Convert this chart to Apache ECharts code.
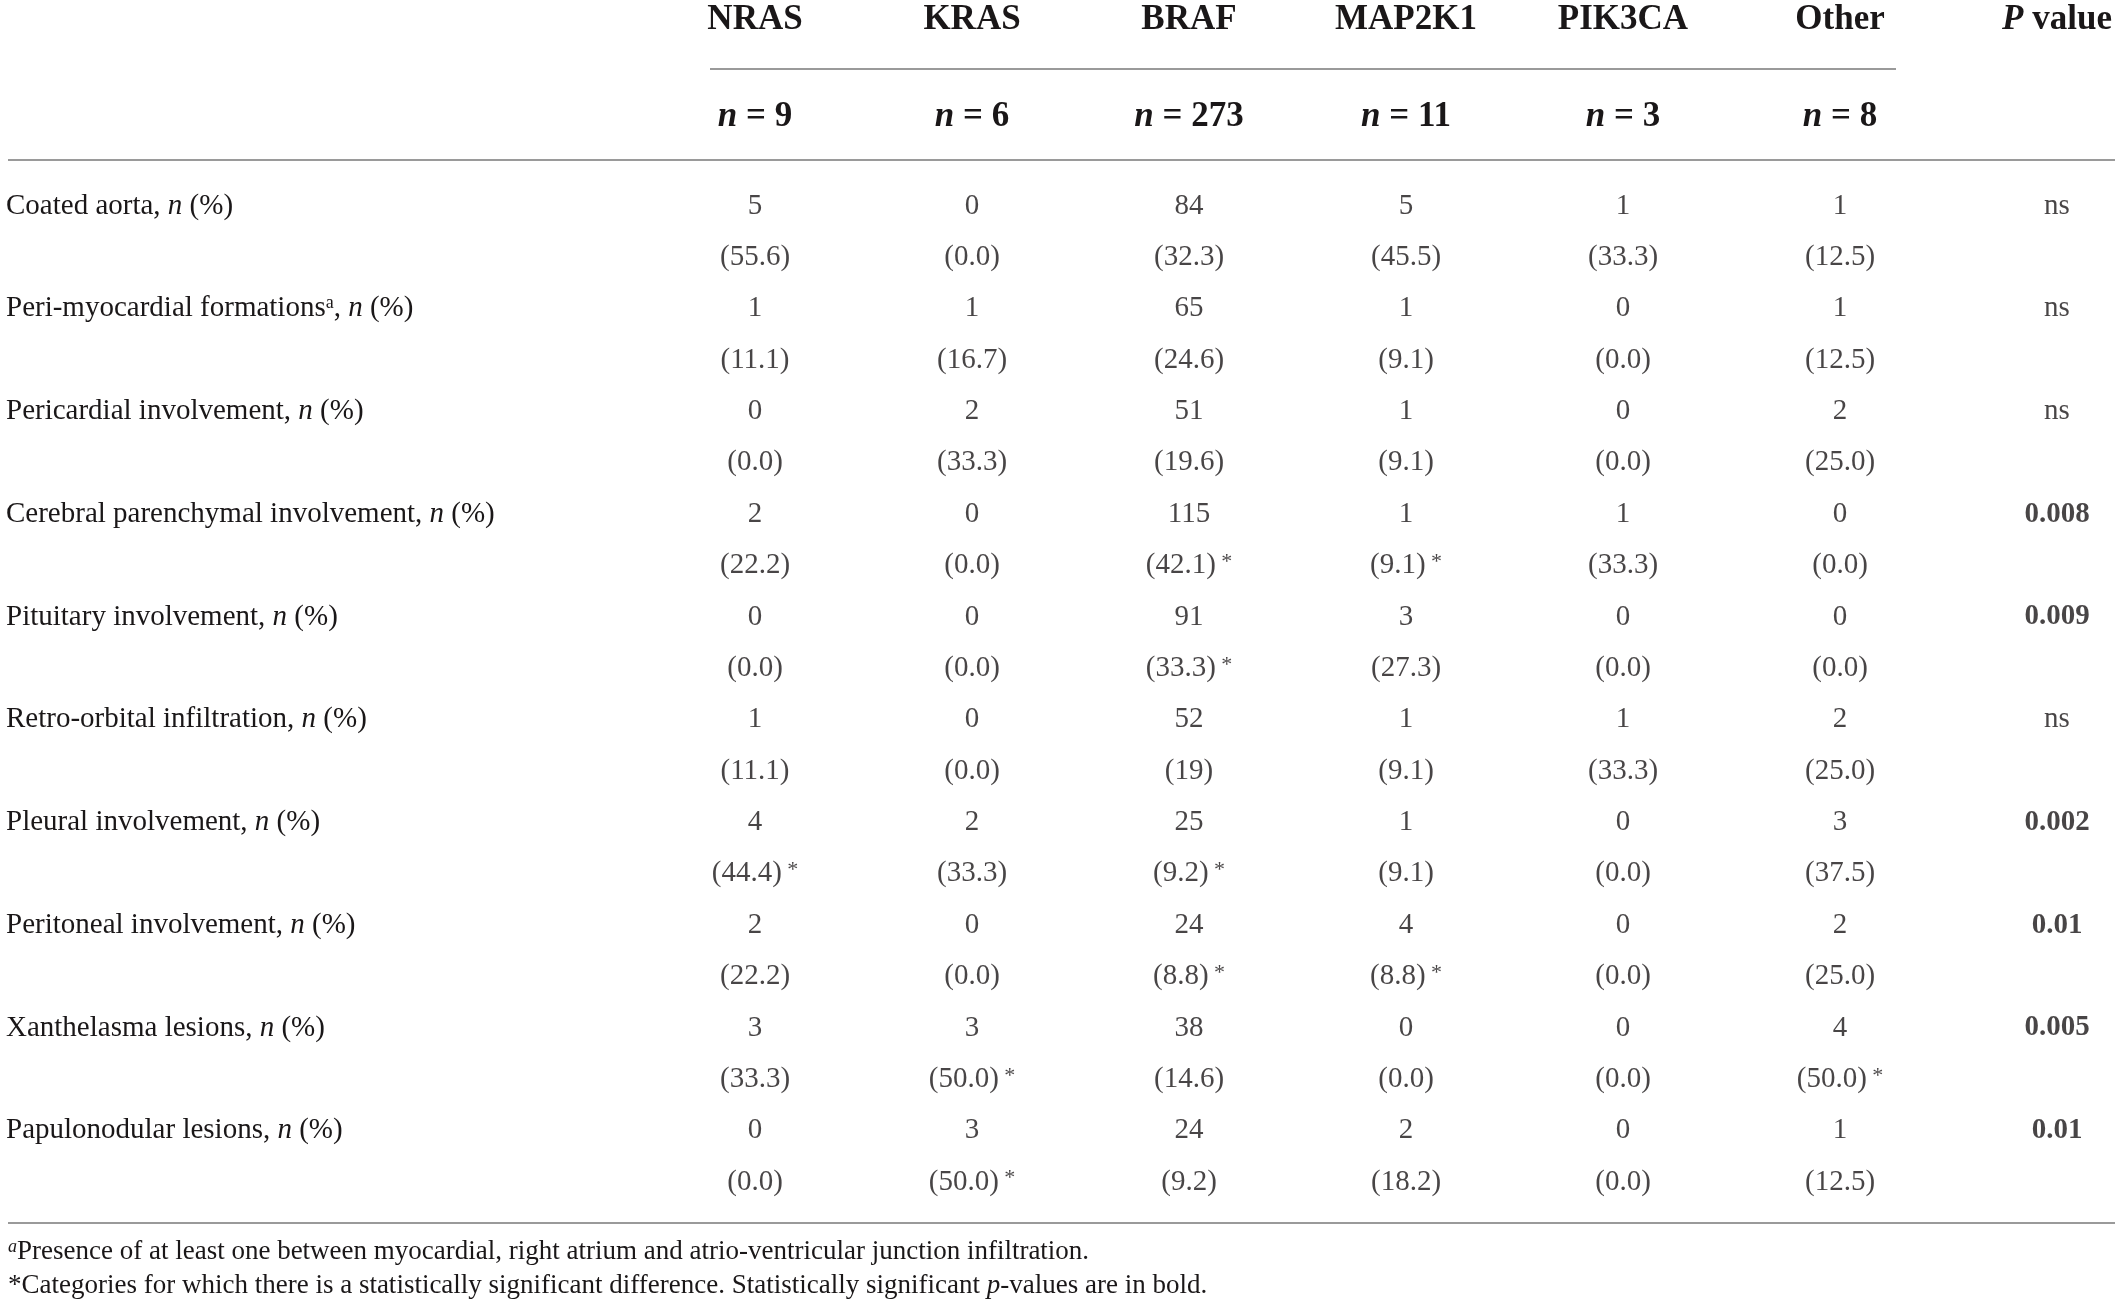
<!DOCTYPE html>
<html>
<head>
<meta charset="utf-8">
<script src="https://cdn.jsdelivr.net/npm/echarts@6/dist/echarts.min.js"></script>
<style>
  html, body { margin: 0; padding: 0; background: #fff; }
  #chart { width: 2121px; height: 1314px; }
</style>
</head>
<body>
<div id="chart"></div>
<script>
// table content
const genes = ['NRAS', 'KRAS', 'BRAF', 'MAP2K1', 'PIK3CA', 'Other', 'P value'];
const groupSizes = ['9', '6', '273', '11', '3', '8', ''];
const features = [
  'Coated aorta',
  'Peri-myocardial formations',
  'Pericardial involvement',
  'Cerebral parenchymal involvement',
  'Pituitary involvement',
  'Retro-orbital infiltration',
  'Pleural involvement',
  'Peritoneal involvement',
  'Xanthelasma lesions',
  'Papulonodular lesions'
];
const counts = [
  [5, 0, 84, 5, 1, 1],
  [1, 1, 65, 1, 0, 1],
  [0, 2, 51, 1, 0, 2],
  [2, 0, 115, 1, 1, 0],
  [0, 0, 91, 3, 0, 0],
  [1, 0, 52, 1, 1, 2],
  [4, 2, 25, 1, 0, 3],
  [2, 0, 24, 4, 0, 2],
  [3, 3, 38, 0, 0, 4],
  [0, 3, 24, 2, 0, 1]
];
const percents = [
  ['55.6', '0.0', '32.3', '45.5', '33.3', '12.5'],
  ['11.1', '16.7', '24.6', '9.1', '0.0', '12.5'],
  ['0.0', '33.3', '19.6', '9.1', '0.0', '25.0'],
  ['22.2', '0.0', '42.1', '9.1', '33.3', '0.0'],
  ['0.0', '0.0', '33.3', '27.3', '0.0', '0.0'],
  ['11.1', '0.0', '19', '9.1', '33.3', '25.0'],
  ['44.4', '33.3', '9.2', '9.1', '0.0', '37.5'],
  ['22.2', '0.0', '8.8', '8.8', '0.0', '25.0'],
  ['33.3', '50.0', '14.6', '0.0', '0.0', '50.0'],
  ['0.0', '50.0', '9.2', '18.2', '0.0', '12.5']
];
// 1 = marked with * (significant difference)
const stars = [
  [0, 0, 0, 0, 0, 0],
  [0, 0, 0, 0, 0, 0],
  [0, 0, 0, 0, 0, 0],
  [0, 0, 1, 1, 0, 0],
  [0, 0, 1, 0, 0, 0],
  [0, 0, 0, 0, 0, 0],
  [1, 0, 1, 0, 0, 0],
  [0, 0, 1, 1, 0, 0],
  [0, 1, 0, 0, 0, 1],
  [0, 1, 0, 0, 0, 0]
];
const pValues = ['ns', 'ns', 'ns', '0.008', '0.009', 'ns', '0.002', '0.01', '0.005', '0.01'];
const footnotes = [
  'Presence of at least one between myocardial, right atrium and atrio-ventricular junction infiltration.',
  'Categories for which there is a statistically significant difference. Statistically significant '
];

const FONT = '"Liberation Serif", "DejaVu Serif", serif';
const INK = '#1a1718';
const RULE = '#9a9a9a';

// two table lines per feature: count, then (percent)
const rowSlots = [];
features.forEach(f => {
  rowSlots.push(f);
  rowSlots.push('');
});

const cells = [];
counts.forEach((row, i) => {
  row.forEach((v, j) => {
    cells.push({ value: [j, 2 * i], text: '{n|' + v + '}' });
    cells.push({ value: [j, 2 * i + 1], text: '{n|(' + percents[i][j] + ')}' + (stars[i][j] ? '{st| *}' : '') });
  });
  cells.push({ value: [6, 2 * i], text: pValues[i] === 'ns' ? '{n|ns}' : '{b|' + pValues[i] + '}' });
});

const chart = echarts.init(document.getElementById('chart'));

const headerRich = {
  h: { fontFamily: FONT, fontSize: 35, fontWeight: 'bold', color: INK },
  hi: { fontFamily: FONT, fontSize: 35, fontWeight: 'bold', fontStyle: 'italic', color: INK }
};

chart.setOption({
  backgroundColor: '#fff',
  animation: false,
  grid: { left: 755, right: 64, top: 206, bottom: 132 },
  xAxis: [
    {
      type: 'category',
      position: 'top',
      data: genes,
      boundaryGap: false,
      axisLine: { show: false },
      axisTick: { show: false },
      splitLine: { show: false },
      axisLabel: {
        interval: 0,
        margin: 186,
        verticalAlign: 'middle',
        formatter: v => v === 'P value' ? '{hi|P}{h| value}' : '{h|' + v + '}',
        rich: headerRich
      }
    },
    {
      type: 'category',
      position: 'top',
      data: groupSizes,
      boundaryGap: false,
      axisLine: { show: false },
      axisTick: { show: false },
      splitLine: { show: false },
      axisLabel: {
        interval: 0,
        margin: 89,
        verticalAlign: 'middle',
        formatter: v => v === '' ? '' : '{hi|n}{h| = ' + v + '}',
        rich: headerRich
      }
    }
  ],
  yAxis: {
    type: 'category',
    inverse: true,
    data: rowSlots,
    boundaryGap: false,
    axisLine: { show: false },
    axisTick: { show: false },
    splitLine: { show: false },
    axisLabel: {
      interval: 0,
      align: 'left',
      margin: 749,
      verticalAlign: 'middle',
      formatter: v => {
        if (!v) return '';
        if (v === 'Peri-myocardial formations') return '{t|' + v + '}{s|a}{t|, }{i|n}{t| (%)}';
        return '{t|' + v + ', }{i|n}{t| (%)}';
      },
      rich: {
        t: { fontFamily: FONT, fontSize: 29, color: INK },
        i: { fontFamily: FONT, fontSize: 29, fontStyle: 'italic', color: INK },
        s: { fontFamily: FONT, fontSize: 18, color: INK, verticalAlign: 'top' }
      }
    }
  },
  series: [{
    type: 'scatter',
    xAxisIndex: 0,
    symbolSize: 0,
    itemStyle: { color: INK },
    data: cells.map(c => c.value),
    label: {
      show: true,
      position: [0, 0],
      align: 'center',
      verticalAlign: 'middle',
      formatter: p => cells[p.dataIndex].text,
      rich: {
        n: { fontFamily: FONT, fontSize: 29, color: INK },
        b: { fontFamily: FONT, fontSize: 29, fontWeight: 'bold', color: INK },
        st: { fontFamily: FONT, fontSize: 22, color: INK, verticalAlign: 'top' }
      }
    }
  }],
  graphic: [
    { type: 'line', shape: { x1: 710, y1: 69, x2: 1896, y2: 69 }, style: { stroke: RULE, lineWidth: 2 } },
    { type: 'line', shape: { x1: 8, y1: 160, x2: 2115, y2: 160 }, style: { stroke: RULE, lineWidth: 2 } },
    { type: 'line', shape: { x1: 8, y1: 1223, x2: 2115, y2: 1223 }, style: { stroke: RULE, lineWidth: 2 } },
    {
      type: 'text', left: 8, top: 1238,
      style: {
        text: '{s|a}{t|' + footnotes[0] + '}',
        rich: {
          t: { fontFamily: FONT, fontSize: 27, fill: INK },
          s: { fontFamily: FONT, fontSize: 18, fontStyle: 'italic', fill: INK, verticalAlign: 'top' }
        }
      }
    },
    {
      type: 'text', left: 8, top: 1272,
      style: {
        text: '{t|*' + footnotes[1] + '}{i|p}{t|-values are in bold.}',
        rich: {
          t: { fontFamily: FONT, fontSize: 27, fill: INK },
          i: { fontFamily: FONT, fontSize: 27, fontStyle: 'italic', fill: INK }
        }
      }
    }
  ]
});
</script>
</body>
</html>
